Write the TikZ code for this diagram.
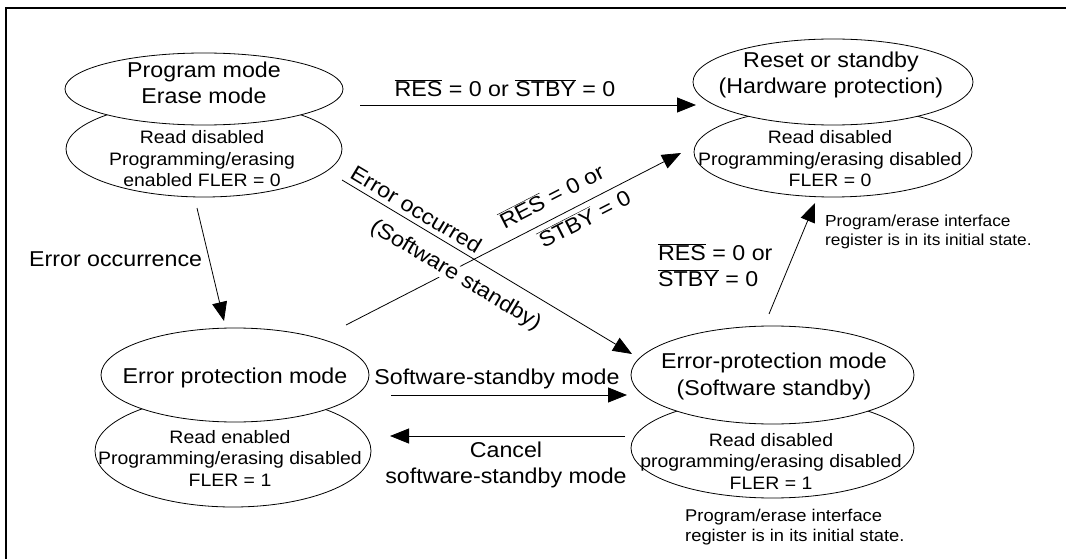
\documentclass[tikz,border=0pt]{standalone}
\usepackage{fontspec}
\setmainfont[FakeStretch=1.08]{Liberation Sans}
\usetikzlibrary{arrows.meta,shapes.geometric}
\newcommand{\ovl}[1]{$\overline{\hbox{#1}}$}
\begin{document}
\begin{tikzpicture}[x=1pt,y=-1pt,
  ell/.style={draw, ellipse, fill=white, inner sep=0pt, line width=0.8pt},
  big/.style={font=\fontsize{21.5}{26.5}\selectfont, align=center, inner sep=0pt},
  small/.style={font=\fontsize{18}{21.5}\selectfont, align=center, inner sep=0pt},
  lab/.style={font=\fontsize{21.5}{26}\selectfont, inner sep=0pt},
  note/.style={font=\fontsize{17}{20.5}\selectfont, align=left, inner sep=0pt},
  notesm/.style={font=\fontsize{16}{18.5}\selectfont, align=left, inner sep=0pt},
  arr/.style={-{Triangle[length=19pt,width=15pt]}, line width=0.8pt}]
\useasboundingbox (0,0) rectangle (1066,559);
% frame
\draw[line width=2pt] (6,559) -- (6,8.5) -- (1066,8.5);

% Program / Erase mode
\node[ell, minimum width=276pt, minimum height=96pt] (pl) at (204,149) {};
\node[ell, minimum width=278pt, minimum height=72pt] (pu) at (204,89) {};
\node[big] (put) at (204,83) {Program mode\\Erase mode};
\node[small] (plt) at (202,159) {Read disabled\\Programming/erasing\\enabled FLER = 0};

% Reset or standby
\node[ell, minimum width=278pt, minimum height=90pt] (rl) at (833,152) {};
\node[ell, minimum width=280pt, minimum height=86pt] (ru) at (833,82) {};
\node[big] (rut) at (831,75) {Reset or standby\\(Hardware protection)};
\node[small] (rlt) at (830,159) {Read disabled\\Programming/erasing disabled\\FLER = 0};
\node[notesm, anchor=west] (rn) at (825,232) {Program/erase interface\\register is in its initial state.};

% Error protection mode
\node[ell, minimum width=276pt, minimum height=112pt] (el) at (233,451) {};
\node[ell, minimum width=268pt, minimum height=94pt] (eu) at (235,375) {};
\node[big] (eut) at (235,378) {Error protection mode};
\node[small] (elt) at (230,458) {Read enabled\\Programming/erasing disabled\\FLER = 1};

% Error-protection mode (Software standby)
\node[ell, minimum width=283pt, minimum height=100pt] (sl) at (772.5,448) {};
\node[ell, minimum width=283pt, minimum height=98pt] (su) at (772.5,375) {};
\node[big] (sut) at (774,376.5) {Error-protection mode\\(Software standby)};
\node[small] (slt) at (771,461) {Read disabled\\programming/erasing disabled\\FLER = 1};
\node[note, anchor=west] (sn) at (685,527) {Program/erase interface\\register is in its initial state.};

% connector end points
\coordinate (h1s) at (360,105);  \coordinate (h1e) at (696,105);
\coordinate (v1s) at (197,208);  \coordinate (v1e) at (224,321);
\coordinate (d1s) at (342,180);  \coordinate (d1e) at (632,354);
\coordinate (d2s) at (346,325);  \coordinate (d2e) at (681,153);
\coordinate (v2s) at (769,314);  \coordinate (v2e) at (815,203);
\coordinate (h2s) at (391,395);  \coordinate (h2e) at (627,395);
\coordinate (h3s) at (625,436);  \coordinate (h3e) at (390,436);

% connectors
\draw[arr] (h1s) -- (h1e);
\node[lab, anchor=base] (h1l) at (505,97) {\ovl{RES} = 0 or \ovl{STBY} = 0};

\draw[arr] (v1s) -- (v1e);
\node[lab, anchor=west] (v1l) at (29,259) {Error occurrence};

\draw[arr] (d2s) -- (d2e)
  node[lab, pos=0.642, sloped, above=12pt] (d2a) {\ovl{RES} = 0 or}
  node[lab, pos=0.692, sloped, below=5pt] (d2b) {\ovl{STBY} = 0};

\draw[arr] (d1s) -- (d1e)
  node[lab, pos=0.233, sloped, above=5pt] (d1a) {Error occurred}
  node[lab, pos=0.433, sloped, below=13pt, fill=white] (d1b) {(Software standby)};

\draw[arr] (v2s) -- (v2e);
\node[lab, align=left, anchor=west] (v2l) at (658,265) {\ovl{RES} = 0 or\\\ovl{STBY} = 0};

\draw[arr] (h2s) -- (h2e);
\node[lab, anchor=base] (h2l) at (497,384) {Software-standby mode};

\draw[arr] (h3s) -- (h3e);
\node[lab, align=center] (h3l) at (506,465) {Cancel\\software-standby mode};
\end{tikzpicture}
\end{document}
